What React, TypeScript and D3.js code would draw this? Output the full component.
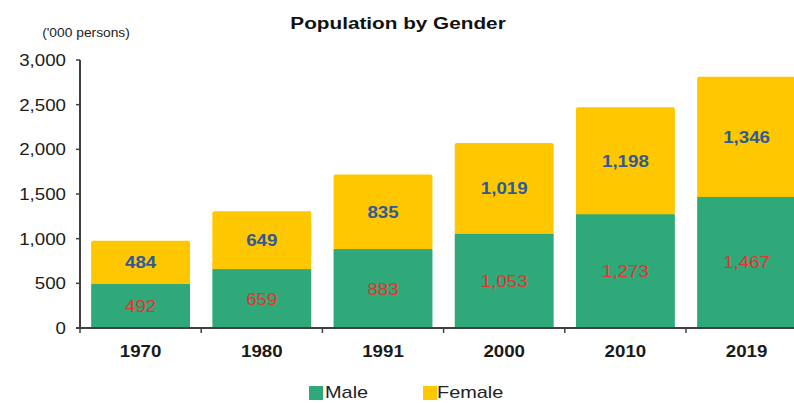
import * as d3 from 'd3';
import type { ReactNode } from 'react';

const years = ['1970', '1980', '1991', '2000', '2010', '2019'];
const male = [492, 659, 883, 1053, 1273, 1467];
const female = [484, 649, 835, 1019, 1198, 1346];
const yTicks = [0, 500, 1000, 1500, 2000, 2500, 3000];

const W = 794;
const H = 403;
const GREEN = '#2fa97a';
const YELLOW = '#ffc700';
const BLUE = '#2f5a9a';
const RED = '#e8332d';
const AXIS = '#404040';
const FONT = 'Arial, "Liberation Sans", sans-serif';

// the source image is slightly stretched horizontally, so text gets an x-scale
function T({ x, y, sx = 1.12, children, ...rest }: { x: number; y: number; sx?: number; children: ReactNode; [k: string]: any }) {
  return (
    <g transform={`translate(${x},${y}) scale(${sx},1)`}>
      <text x={0} y={0} {...rest}>{children}</text>
    </g>
  );
}

export default function App() {
  const left = 80;
  const step = 121.2;
  const x = d3.scaleBand<string>()
    .domain(years)
    .range([left, left + step * years.length])
    .paddingInner(0.184)
    .paddingOuter(0.092);
  const y = d3.scaleLinear().domain([0, 3000]).range([328, 60]);
  const fmt = d3.format(',');
  const bw = x.bandwidth();

  return (
    <svg width={W} height={H} style={{ position: 'absolute', left: 0, top: 0, background: '#fff' }} fontFamily={FONT}>
      <T x={398} y={29} sx={1.22} textAnchor="middle" fontSize={17} fontWeight="bold" fill="#111">
        Population by Gender
      </T>
      <T x={86} y={37} sx={1.15} textAnchor="middle" fontSize={12} fill="#222">
        ('000 persons)
      </T>

      {years.map((yr, i) => {
        const x0 = x(yr) as number;
        const cx = x0 + bw / 2;
        const m = male[i];
        const f = female[i];
        const yM = y(m);
        const yT = y(m + f);
        return (
          <g key={yr}>
            <rect x={x0} y={yT} width={bw} height={yM - yT + 1} fill={YELLOW} rx={2} />
            <rect x={x0} y={yM} width={bw} height={y(0) - yM} fill={GREEN} />
            <T x={cx} y={(yT + yM) / 2 + 6} sx={1.1} textAnchor="middle" fontSize={17} fontWeight="bold" fill={BLUE}>
              {fmt(f)}
            </T>
            <T x={cx} y={(yM + y(0)) / 2 + 6} sx={1.1} textAnchor="middle" fontSize={17} fill={RED}>
              {fmt(m)}
            </T>
            <T x={cx} y={357} sx={1.1} textAnchor="middle" fontSize={17} fontWeight="bold" fill="#1a1a1a">
              {yr}
            </T>
          </g>
        );
      })}

      {/* y axis */}
      <line x1={left} x2={left} y1={y(3000)} y2={y(0)} stroke={AXIS} strokeWidth={2} />
      {yTicks.map((t) => (
        <g key={t}>
          <line x1={left - 4} x2={left} y1={y(t)} y2={y(t)} stroke={AXIS} strokeWidth={1.5} />
          <T x={66} y={y(t) + 6} sx={1.1} textAnchor="end" fontSize={17} fill="#1a1a1a">
            {fmt(t)}
          </T>
        </g>
      ))}

      {/* x axis */}
      <line x1={left - 4} x2={W} y1={y(0)} y2={y(0)} stroke={AXIS} strokeWidth={2} />
      {years.map((yr, i) => {
        const bx = left + step * i;
        return <line key={yr} x1={bx} x2={bx} y1={y(0)} y2={y(0) + 5} stroke={AXIS} strokeWidth={1.5} />;
      })}

      {/* legend */}
      <rect x={309} y={386} width={14} height={14} fill={GREEN} />
      <T x={325} y={398} sx={1.17} fontSize={17} fill="#222">Male</T>
      <rect x={423} y={386} width={14} height={14} fill={YELLOW} />
      <T x={437} y={398} sx={1.17} fontSize={17} fill="#222">Female</T>
    </svg>
  );
}
